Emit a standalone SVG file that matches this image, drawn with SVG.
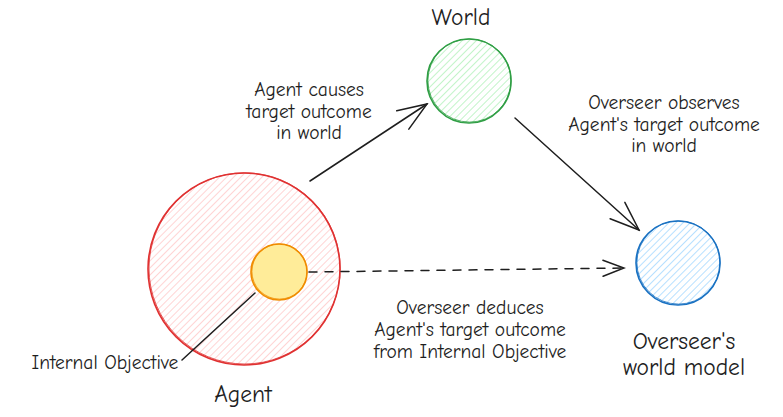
<svg xmlns="http://www.w3.org/2000/svg" width="783" height="417" viewBox="0 0 783 417">
<defs>
<pattern id="hRed" width="5" height="5" patternUnits="userSpaceOnUse" patternTransform="rotate(45)"><line x1="0" y1="0" x2="0" y2="5" stroke="#ffc9c9" stroke-width="1.6"/></pattern>
<pattern id="hGreen" width="5" height="5" patternUnits="userSpaceOnUse" patternTransform="rotate(45)"><line x1="0" y1="0" x2="0" y2="5" stroke="#b2f2bb" stroke-width="1.6"/></pattern>
<pattern id="hBlue" width="5" height="5" patternUnits="userSpaceOnUse" patternTransform="rotate(45)"><line x1="0" y1="0" x2="0" y2="5" stroke="#a5d8ff" stroke-width="1.6"/></pattern>
<marker id="arr" viewBox="0 0 32 26" refX="30" refY="13" markerWidth="32" markerHeight="26" markerUnits="userSpaceOnUse" orient="auto"><path d="M1,2 L30,13 L1,24" fill="none" stroke="#1e1e1e" stroke-width="1.5" stroke-linecap="round"/></marker>
<marker id="arrS" viewBox="0 0 24 20" refX="22" refY="10" markerWidth="24" markerHeight="20" markerUnits="userSpaceOnUse" orient="auto"><path d="M1,2 L22,10 L1,18" fill="none" stroke="#1e1e1e" stroke-width="1.5" stroke-linecap="round"/></marker>
</defs>
<style>
text{font-family:"Comic Neue","Liberation Sans","DejaVu Sans",sans-serif;fill:#1e1e1e;font-size:19.5px;text-anchor:middle}
.big{font-size:23.5px}
.conn{stroke:#1e1e1e;stroke-width:1.5;fill:none;stroke-linecap:round}
</style>
<g id="agent">
<circle cx="244" cy="269" r="96" fill="url(#hRed)" stroke="#e03131" stroke-width="1.6"/>
<circle cx="244.6" cy="268.4" r="95.6" fill="none" stroke="#e03131" stroke-width="0.8"/>
<text class="big" x="243" y="402">Agent</text>
</g>
<g id="internal-objective">
<circle cx="279" cy="272" r="28" fill="#ffec99" stroke="#f08c00" stroke-width="1.6"/>
<circle cx="279.5" cy="271.5" r="27.6" fill="none" stroke="#f08c00" stroke-width="0.8"/>
<text x="105" y="369">Internal Objective</text>
</g>
<g id="world">
<circle cx="469" cy="81" r="42" fill="url(#hGreen)" stroke="#2f9e44" stroke-width="1.6"/>
<circle cx="469.5" cy="80.5" r="41.6" fill="none" stroke="#2f9e44" stroke-width="0.8"/>
<text class="big" x="461" y="25">World</text>
</g>
<g id="overseer-model">
<circle cx="678" cy="263" r="42" fill="url(#hBlue)" stroke="#1971c2" stroke-width="1.6"/>
<circle cx="678.5" cy="262.5" r="41.6" fill="none" stroke="#1971c2" stroke-width="0.8"/>
<text class="big" x="684" y="349">Overseer's</text>
<text class="big" x="684" y="375">world model</text>
</g>
<g id="connectors">
<line class="conn" x1="310" y1="181" x2="427" y2="104" marker-end="url(#arr)"/>
<line class="conn" x1="515" y1="118" x2="639" y2="230" marker-end="url(#arr)"/>
<line class="conn" x1="309" y1="272" x2="624" y2="268" stroke-dasharray="8 8" marker-end="url(#arrS)"/>
<line class="conn" x1="255" y1="293" x2="182" y2="360"/>
</g>
<g id="labels">
<text x="309" y="96">Agent causes</text>
<text x="309" y="118">target outcome</text>
<text x="309" y="139">in world</text>
<text x="664" y="109">Overseer observes</text>
<text x="664" y="131">Agent's target outcome</text>
<text x="664" y="152">in world</text>
<text x="470" y="314">Overseer deduces</text>
<text x="470" y="336">Agent's target outcome</text>
<text x="470" y="358">from Internal Objective</text>
</g>
</svg>
